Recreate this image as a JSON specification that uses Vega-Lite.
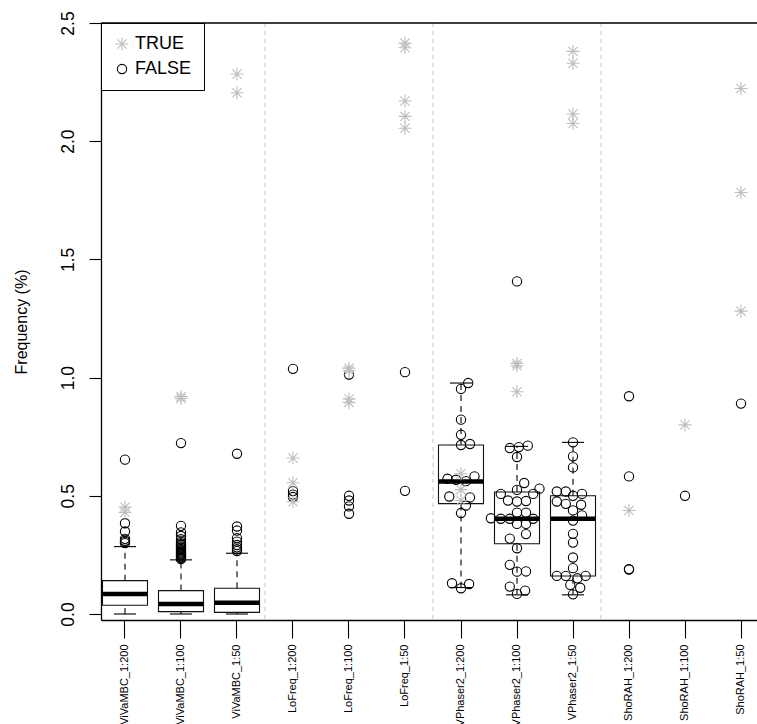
{
  "$schema": "https://vega.github.io/schema/vega-lite/v6.json",
  "width": 656,
  "height": 597,
  "autosize": {"type": "none"},
  "padding": {"left": 101, "top": 23, "right": 0, "bottom": 104},
  "background": "white",
  "config": {
    "view": {"stroke": null},
    "font": "Liberation Sans",
    "tick": {"opacity": 1},
    "axis": {"grid": false, "domainColor": "#000", "domainWidth": 1.3, "tickColor": "#000", "tickWidth": 1.1, "labelColor": "#000", "titleColor": "#000", "labelFont": "Liberation Sans", "titleFont": "Liberation Sans", "titleFontWeight": "normal"}
  },
  "datasets": {
    "seps": [{"m": "ViVaMBC_1:50"}, {"m": "LoFreq_1:50"}, {"m": "VPhaser2_1:50"}],
    "top": [{"t": 2.5}],
    "boxes": [
      {"m": "ViVaMBC_1:200", "lo": 0, "q1": 0.037, "med": 0.085, "q3": 0.141, "hi": 0.285},
      {"m": "ViVaMBC_1:100", "lo": 0, "q1": 0.01, "med": 0.042, "q3": 0.099, "hi": 0.229},
      {"m": "ViVaMBC_1:50", "lo": 0, "q1": 0.007, "med": 0.048, "q3": 0.109, "hi": 0.257},
      {"m": "VPhaser2_1:200", "lo": 0.112, "q1": 0.467, "med": 0.561, "q3": 0.715, "hi": 0.977},
      {"m": "VPhaser2_1:100", "lo": 0.081, "q1": 0.297, "med": 0.403, "q3": 0.516, "hi": 0.709},
      {"m": "VPhaser2_1:50", "lo": 0.081, "q1": 0.161, "med": 0.403, "q3": 0.5, "hi": 0.726}
    ],
    "pts": [
      {"m": "ViVaMBC_1:200", "v": 0.653, "g": "FALSE", "s": 0},
      {"m": "ViVaMBC_1:200", "v": 0.384, "g": "FALSE", "s": 0},
      {"m": "ViVaMBC_1:200", "v": 0.349, "g": "FALSE", "s": 0},
      {"m": "ViVaMBC_1:200", "v": 0.318, "g": "FALSE", "s": 0},
      {"m": "ViVaMBC_1:200", "v": 0.31, "g": "FALSE", "s": 0},
      {"m": "ViVaMBC_1:200", "v": 0.305, "g": "FALSE", "s": 0},
      {"m": "ViVaMBC_1:200", "v": 0.3, "g": "FALSE", "s": 0},
      {"m": "ViVaMBC_1:200", "v": 0.452, "g": "TRUE", "s": 0},
      {"m": "ViVaMBC_1:200", "v": 0.43, "g": "TRUE", "s": 0},
      {"m": "ViVaMBC_1:100", "v": 0.723, "g": "FALSE", "s": 0},
      {"m": "ViVaMBC_1:100", "v": 0.373, "g": "FALSE", "s": 0},
      {"m": "ViVaMBC_1:100", "v": 0.345, "g": "FALSE", "s": 0},
      {"m": "ViVaMBC_1:100", "v": 0.33, "g": "FALSE", "s": 0},
      {"m": "ViVaMBC_1:100", "v": 0.316, "g": "FALSE", "s": 0},
      {"m": "ViVaMBC_1:100", "v": 0.306, "g": "FALSE", "s": 0},
      {"m": "ViVaMBC_1:100", "v": 0.3, "g": "FALSE", "s": 0},
      {"m": "ViVaMBC_1:100", "v": 0.295, "g": "FALSE", "s": 0},
      {"m": "ViVaMBC_1:100", "v": 0.29, "g": "FALSE", "s": 0},
      {"m": "ViVaMBC_1:100", "v": 0.285, "g": "FALSE", "s": 0},
      {"m": "ViVaMBC_1:100", "v": 0.28, "g": "FALSE", "s": 0},
      {"m": "ViVaMBC_1:100", "v": 0.275, "g": "FALSE", "s": 0},
      {"m": "ViVaMBC_1:100", "v": 0.27, "g": "FALSE", "s": 0},
      {"m": "ViVaMBC_1:100", "v": 0.265, "g": "FALSE", "s": 0},
      {"m": "ViVaMBC_1:100", "v": 0.26, "g": "FALSE", "s": 0},
      {"m": "ViVaMBC_1:100", "v": 0.256, "g": "FALSE", "s": 0},
      {"m": "ViVaMBC_1:100", "v": 0.252, "g": "FALSE", "s": 0},
      {"m": "ViVaMBC_1:100", "v": 0.248, "g": "FALSE", "s": 0},
      {"m": "ViVaMBC_1:100", "v": 0.244, "g": "FALSE", "s": 0},
      {"m": "ViVaMBC_1:100", "v": 0.24, "g": "FALSE", "s": 0},
      {"m": "ViVaMBC_1:100", "v": 0.236, "g": "FALSE", "s": 0},
      {"m": "ViVaMBC_1:100", "v": 0.232, "g": "FALSE", "s": 0},
      {"m": "ViVaMBC_1:100", "v": 0.92, "g": "TRUE", "s": 0},
      {"m": "ViVaMBC_1:100", "v": 0.912, "g": "TRUE", "s": 0},
      {"m": "ViVaMBC_1:50", "v": 0.678, "g": "FALSE", "s": 0},
      {"m": "ViVaMBC_1:50", "v": 0.37, "g": "FALSE", "s": 0},
      {"m": "ViVaMBC_1:50", "v": 0.353, "g": "FALSE", "s": 0},
      {"m": "ViVaMBC_1:50", "v": 0.321, "g": "FALSE", "s": 0},
      {"m": "ViVaMBC_1:50", "v": 0.306, "g": "FALSE", "s": 0},
      {"m": "ViVaMBC_1:50", "v": 0.292, "g": "FALSE", "s": 0},
      {"m": "ViVaMBC_1:50", "v": 0.282, "g": "FALSE", "s": 0},
      {"m": "ViVaMBC_1:50", "v": 0.274, "g": "FALSE", "s": 0},
      {"m": "ViVaMBC_1:50", "v": 0.266, "g": "FALSE", "s": 0},
      {"m": "ViVaMBC_1:50", "v": 2.284, "g": "TRUE", "s": 0},
      {"m": "ViVaMBC_1:50", "v": 2.205, "g": "TRUE", "s": 0},
      {"m": "LoFreq_1:200", "v": 1.037, "g": "FALSE", "s": 0},
      {"m": "LoFreq_1:200", "v": 0.52, "g": "FALSE", "s": 0},
      {"m": "LoFreq_1:200", "v": 0.505, "g": "FALSE", "s": 0},
      {"m": "LoFreq_1:200", "v": 0.495, "g": "FALSE", "s": 0},
      {"m": "LoFreq_1:200", "v": 0.66, "g": "TRUE", "s": 0},
      {"m": "LoFreq_1:200", "v": 0.555, "g": "TRUE", "s": 0},
      {"m": "LoFreq_1:200", "v": 0.475, "g": "TRUE", "s": 0},
      {"m": "LoFreq_1:100", "v": 1.013, "g": "FALSE", "s": 0},
      {"m": "LoFreq_1:100", "v": 0.5, "g": "FALSE", "s": 0},
      {"m": "LoFreq_1:100", "v": 0.48, "g": "FALSE", "s": 0},
      {"m": "LoFreq_1:100", "v": 0.455, "g": "FALSE", "s": 0},
      {"m": "LoFreq_1:100", "v": 0.424, "g": "FALSE", "s": 0},
      {"m": "LoFreq_1:100", "v": 1.04, "g": "TRUE", "s": 0},
      {"m": "LoFreq_1:100", "v": 1.03, "g": "TRUE", "s": 0},
      {"m": "LoFreq_1:100", "v": 0.91, "g": "TRUE", "s": 0},
      {"m": "LoFreq_1:100", "v": 0.895, "g": "TRUE", "s": 0},
      {"m": "LoFreq_1:50", "v": 1.023, "g": "FALSE", "s": 0},
      {"m": "LoFreq_1:50", "v": 0.521, "g": "FALSE", "s": 0},
      {"m": "LoFreq_1:50", "v": 2.415, "g": "TRUE", "s": 0},
      {"m": "LoFreq_1:50", "v": 2.395, "g": "TRUE", "s": 0},
      {"m": "LoFreq_1:50", "v": 2.17, "g": "TRUE", "s": 0},
      {"m": "LoFreq_1:50", "v": 2.105, "g": "TRUE", "s": 0},
      {"m": "LoFreq_1:50", "v": 2.055, "g": "TRUE", "s": 0},
      {"m": "VPhaser2_1:200", "v": 0.977, "g": "FALSE", "s": 0.8},
      {"m": "VPhaser2_1:200", "v": 0.952, "g": "FALSE", "s": 0},
      {"m": "VPhaser2_1:200", "v": 0.822, "g": "FALSE", "s": 0},
      {"m": "VPhaser2_1:200", "v": 0.758, "g": "FALSE", "s": 0},
      {"m": "VPhaser2_1:200", "v": 0.715, "g": "FALSE", "s": 0},
      {"m": "VPhaser2_1:200", "v": 0.719, "g": "FALSE", "s": 1},
      {"m": "VPhaser2_1:200", "v": 0.572, "g": "FALSE", "s": -1.5},
      {"m": "VPhaser2_1:200", "v": 0.568, "g": "FALSE", "s": -0.55},
      {"m": "VPhaser2_1:200", "v": 0.562, "g": "FALSE", "s": 0.55},
      {"m": "VPhaser2_1:200", "v": 0.582, "g": "FALSE", "s": 1.5},
      {"m": "VPhaser2_1:200", "v": 0.497, "g": "FALSE", "s": -1.3},
      {"m": "VPhaser2_1:200", "v": 0.493, "g": "FALSE", "s": 1},
      {"m": "VPhaser2_1:200", "v": 0.459, "g": "FALSE", "s": 0.55},
      {"m": "VPhaser2_1:200", "v": 0.427, "g": "FALSE", "s": 0},
      {"m": "VPhaser2_1:200", "v": 0.13, "g": "FALSE", "s": -1},
      {"m": "VPhaser2_1:200", "v": 0.109, "g": "FALSE", "s": 0},
      {"m": "VPhaser2_1:200", "v": 0.127, "g": "FALSE", "s": 0.9},
      {"m": "VPhaser2_1:200", "v": 0.593, "g": "TRUE", "s": 0},
      {"m": "VPhaser2_1:200", "v": 0.526, "g": "TRUE", "s": 0},
      {"m": "VPhaser2_1:200", "v": 0.48, "g": "TRUE", "s": 0},
      {"m": "VPhaser2_1:100", "v": 1.407, "g": "FALSE", "s": 0},
      {"m": "VPhaser2_1:100", "v": 0.702, "g": "FALSE", "s": -0.8},
      {"m": "VPhaser2_1:100", "v": 0.706, "g": "FALSE", "s": 0.2},
      {"m": "VPhaser2_1:100", "v": 0.712, "g": "FALSE", "s": 1.2},
      {"m": "VPhaser2_1:100", "v": 0.664, "g": "FALSE", "s": 0},
      {"m": "VPhaser2_1:100", "v": 0.554, "g": "FALSE", "s": 0.8},
      {"m": "VPhaser2_1:100", "v": 0.53, "g": "FALSE", "s": 2.5},
      {"m": "VPhaser2_1:100", "v": 0.525, "g": "FALSE", "s": 0},
      {"m": "VPhaser2_1:100", "v": 0.508, "g": "FALSE", "s": 1.8},
      {"m": "VPhaser2_1:100", "v": 0.508, "g": "FALSE", "s": -1.8},
      {"m": "VPhaser2_1:100", "v": 0.48, "g": "FALSE", "s": -1},
      {"m": "VPhaser2_1:100", "v": 0.476, "g": "FALSE", "s": 0},
      {"m": "VPhaser2_1:100", "v": 0.478, "g": "FALSE", "s": 1},
      {"m": "VPhaser2_1:100", "v": 0.429, "g": "FALSE", "s": 0},
      {"m": "VPhaser2_1:100", "v": 0.429, "g": "FALSE", "s": 1},
      {"m": "VPhaser2_1:100", "v": 0.405, "g": "FALSE", "s": -2.9},
      {"m": "VPhaser2_1:100", "v": 0.403, "g": "FALSE", "s": -1.8},
      {"m": "VPhaser2_1:100", "v": 0.403, "g": "FALSE", "s": -0.8},
      {"m": "VPhaser2_1:100", "v": 0.403, "g": "FALSE", "s": 1.8},
      {"m": "VPhaser2_1:100", "v": 0.381, "g": "FALSE", "s": 0},
      {"m": "VPhaser2_1:100", "v": 0.381, "g": "FALSE", "s": 1},
      {"m": "VPhaser2_1:100", "v": 0.338, "g": "FALSE", "s": 1},
      {"m": "VPhaser2_1:100", "v": 0.319, "g": "FALSE", "s": -0.8},
      {"m": "VPhaser2_1:100", "v": 0.278, "g": "FALSE", "s": 0},
      {"m": "VPhaser2_1:100", "v": 0.208, "g": "FALSE", "s": -0.8},
      {"m": "VPhaser2_1:100", "v": 0.179, "g": "FALSE", "s": 0},
      {"m": "VPhaser2_1:100", "v": 0.18, "g": "FALSE", "s": 1},
      {"m": "VPhaser2_1:100", "v": 0.116, "g": "FALSE", "s": -0.8},
      {"m": "VPhaser2_1:100", "v": 0.085, "g": "FALSE", "s": 0},
      {"m": "VPhaser2_1:100", "v": 0.099, "g": "FALSE", "s": 0.9},
      {"m": "VPhaser2_1:100", "v": 1.06, "g": "TRUE", "s": 0},
      {"m": "VPhaser2_1:100", "v": 1.05, "g": "TRUE", "s": 0},
      {"m": "VPhaser2_1:100", "v": 0.94, "g": "TRUE", "s": 0},
      {"m": "VPhaser2_1:50", "v": 0.726, "g": "FALSE", "s": 0},
      {"m": "VPhaser2_1:50", "v": 0.667, "g": "FALSE", "s": 0},
      {"m": "VPhaser2_1:50", "v": 0.62, "g": "FALSE", "s": 0},
      {"m": "VPhaser2_1:50", "v": 0.518, "g": "FALSE", "s": -1.8},
      {"m": "VPhaser2_1:50", "v": 0.518, "g": "FALSE", "s": -0.8},
      {"m": "VPhaser2_1:50", "v": 0.508, "g": "FALSE", "s": 1},
      {"m": "VPhaser2_1:50", "v": 0.5, "g": "FALSE", "s": 0},
      {"m": "VPhaser2_1:50", "v": 0.476, "g": "FALSE", "s": -1.8},
      {"m": "VPhaser2_1:50", "v": 0.466, "g": "FALSE", "s": -0.8},
      {"m": "VPhaser2_1:50", "v": 0.462, "g": "FALSE", "s": 0.9},
      {"m": "VPhaser2_1:50", "v": 0.438, "g": "FALSE", "s": 0},
      {"m": "VPhaser2_1:50", "v": 0.417, "g": "FALSE", "s": 1},
      {"m": "VPhaser2_1:50", "v": 0.395, "g": "FALSE", "s": 0},
      {"m": "VPhaser2_1:50", "v": 0.339, "g": "FALSE", "s": 0},
      {"m": "VPhaser2_1:50", "v": 0.302, "g": "FALSE", "s": 0},
      {"m": "VPhaser2_1:50", "v": 0.239, "g": "FALSE", "s": 0},
      {"m": "VPhaser2_1:50", "v": 0.194, "g": "FALSE", "s": 0},
      {"m": "VPhaser2_1:50", "v": 0.161, "g": "FALSE", "s": -1.8},
      {"m": "VPhaser2_1:50", "v": 0.161, "g": "FALSE", "s": -0.8},
      {"m": "VPhaser2_1:50", "v": 0.151, "g": "FALSE", "s": 0.5},
      {"m": "VPhaser2_1:50", "v": 0.161, "g": "FALSE", "s": 1.4},
      {"m": "VPhaser2_1:50", "v": 0.123, "g": "FALSE", "s": -0.3},
      {"m": "VPhaser2_1:50", "v": 0.111, "g": "FALSE", "s": 0.8},
      {"m": "VPhaser2_1:50", "v": 0.083, "g": "FALSE", "s": 0},
      {"m": "VPhaser2_1:50", "v": 2.38, "g": "TRUE", "s": 0},
      {"m": "VPhaser2_1:50", "v": 2.33, "g": "TRUE", "s": 0},
      {"m": "VPhaser2_1:50", "v": 2.115, "g": "TRUE", "s": 0},
      {"m": "VPhaser2_1:50", "v": 2.075, "g": "TRUE", "s": 0},
      {"m": "ShoRAH_1:200", "v": 0.921, "g": "FALSE", "s": 0},
      {"m": "ShoRAH_1:200", "v": 0.582, "g": "FALSE", "s": 0},
      {"m": "ShoRAH_1:200", "v": 0.19, "g": "FALSE", "s": 0},
      {"m": "ShoRAH_1:200", "v": 0.188, "g": "FALSE", "s": 0},
      {"m": "ShoRAH_1:200", "v": 0.438, "g": "TRUE", "s": 0},
      {"m": "ShoRAH_1:100", "v": 0.5, "g": "FALSE", "s": 0},
      {"m": "ShoRAH_1:100", "v": 0.8, "g": "TRUE", "s": 0},
      {"m": "ShoRAH_1:50", "v": 0.89, "g": "FALSE", "s": 0},
      {"m": "ShoRAH_1:50", "v": 2.223, "g": "TRUE", "s": 0},
      {"m": "ShoRAH_1:50", "v": 1.783, "g": "TRUE", "s": 0},
      {"m": "ShoRAH_1:50", "v": 1.281, "g": "TRUE", "s": 0}
    ]
  },
  "layer": [
    {
      "data": {"name": "seps"},
      "mark": {"type": "rule", "xOffset": 28, "strokeDash": [4, 4], "color": "#C4C4C4", "strokeWidth": 1},
      "encoding": {
        "x": {"field": "m", "type": "nominal", "title": null,
          "scale": {"domain": ["ViVaMBC_1:200", "ViVaMBC_1:100", "ViVaMBC_1:50", "LoFreq_1:200", "LoFreq_1:100", "LoFreq_1:50", "VPhaser2_1:200", "VPhaser2_1:100", "VPhaser2_1:50", "ShoRAH_1:200", "ShoRAH_1:100", "ShoRAH_1:50"], "range": [0, 664], "paddingInner": 0.143, "paddingOuter": 0},
          "axis": {"labelAngle": -90, "labelAlign": "right", "labelBaseline": "middle", "labelFontSize": 11, "tickSize": 18, "labelPadding": 6, "labelOverlap": false}}
      }
    },
    {
      "data": {"name": "top"},
      "mark": {"type": "rule", "color": "#000", "strokeWidth": 1.3},
      "encoding": {
        "y": {"field": "t", "type": "quantitative", "title": "Frequency (%)",
          "scale": {"domain": [-0.0254, 2.5], "nice": false, "zero": false},
          "axis": {"values": [0, 0.5, 1, 1.5, 2, 2.5], "format": ".1f", "labelAngle": -90, "labelAlign": "center", "labelBaseline": "alphabetic", "labelFontSize": 17.5, "labelPadding": 16, "tickSize": 12, "titleFontSize": 16, "titlePadding": 30}}
      }
    },
    {
      "data": {"name": "boxes"},
      "mark": {"type": "rule", "strokeDash": [6, 5], "color": "#000", "strokeWidth": 1.1},
      "encoding": {
        "x": {"field": "m", "type": "nominal"},
        "y": {"field": "q3", "type": "quantitative", "title": "Frequency (%)"},
        "y2": {"field": "hi"}
      }
    },
    {
      "data": {"name": "boxes"},
      "mark": {"type": "rule", "strokeDash": [6, 5], "color": "#000", "strokeWidth": 1.1},
      "encoding": {
        "x": {"field": "m", "type": "nominal"},
        "y": {"field": "lo", "type": "quantitative", "title": "Frequency (%)"},
        "y2": {"field": "q1"}
      }
    },
    {
      "data": {"name": "boxes"},
      "mark": {"type": "tick", "size": 22, "thickness": 1.1, "color": "#000", "opacity": 1},
      "encoding": {
        "x": {"field": "m", "type": "nominal"},
        "y": {"field": "hi", "type": "quantitative", "title": "Frequency (%)"}
      }
    },
    {
      "data": {"name": "boxes"},
      "mark": {"type": "tick", "size": 22, "thickness": 1.1, "color": "#000", "opacity": 1},
      "encoding": {
        "x": {"field": "m", "type": "nominal"},
        "y": {"field": "lo", "type": "quantitative", "title": "Frequency (%)"}
      }
    },
    {
      "data": {"name": "boxes"},
      "mark": {"type": "bar", "width": 45, "fill": "transparent", "stroke": "#111", "strokeWidth": 1.1},
      "encoding": {
        "x": {"field": "m", "type": "nominal"},
        "y": {"field": "q1", "type": "quantitative", "title": "Frequency (%)"},
        "y2": {"field": "q3"}
      }
    },
    {
      "data": {"name": "boxes"},
      "mark": {"type": "tick", "size": 45, "thickness": 4.5, "color": "#000", "opacity": 1},
      "encoding": {
        "x": {"field": "m", "type": "nominal"},
        "y": {"field": "med", "type": "quantitative", "title": "Frequency (%)"}
      }
    },
    {
      "data": {"name": "pts"},
      "mark": {"type": "point", "filled": false, "size": 86, "strokeWidth": 1.1, "opacity": 1},
      "encoding": {
        "x": {"field": "m", "type": "nominal"},
        "xOffset": {"field": "s", "type": "quantitative", "scale": {"domain": [-2.6667, 2.6667]}},
        "y": {"field": "v", "type": "quantitative", "title": "Frequency (%)"},
        "color": {"field": "g", "type": "nominal",
          "scale": {"domain": ["TRUE", "FALSE"], "range": ["#BEBEBE", "#000000"]},
          "legend": {"orient": "top-left", "offset": 0, "title": null, "strokeColor": "#000", "fillColor": "#fff", "padding": 12, "rowPadding": 7, "labelFontSize": 18, "labelFont": "Liberation Sans", "labelColor": "#000", "labelOffset": 4, "symbolSize": 86, "symbolStrokeWidth": 1.1, "cornerRadius": 0}},
        "shape": {"field": "g", "type": "nominal",
          "scale": {"domain": ["TRUE", "FALSE"], "range": ["M-1.4,0L1.4,0M0,-1.4L0,1.4M-0.99,-0.99L0.99,0.99M-0.99,0.99L0.99,-0.99", "circle"]},
          "legend": {"orient": "top-left", "offset": 0, "title": null, "strokeColor": "#000", "fillColor": "#fff", "padding": 12, "rowPadding": 7, "labelFontSize": 18, "labelFont": "Liberation Sans", "labelColor": "#000", "labelOffset": 4, "symbolSize": 86, "symbolStrokeWidth": 1.1, "cornerRadius": 0}}
      }
    }
  ]
}
